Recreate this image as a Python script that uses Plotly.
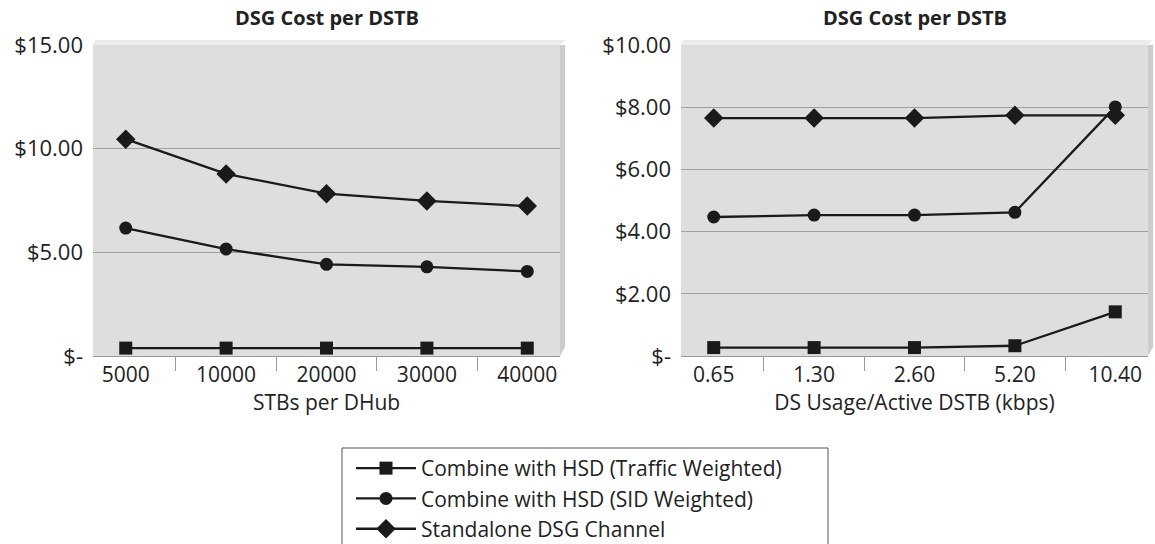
import plotly.graph_objects as go

series_names = ["Combine with HSD (Traffic Weighted)", "Combine with HSD (SID Weighted)", "Standalone DSG Channel"]
symbols = ["square", "circle", "diamond"]

left_categories = ["5000", "10000", "20000", "30000", "40000"]
left_traffic = [0.38, 0.38, 0.38, 0.38, 0.38]
left_sid = [6.17, 5.16, 4.42, 4.3, 4.08]
left_standalone = [10.46, 8.78, 7.83, 7.48, 7.23]

right_categories = ["0.65", "1.30", "2.60", "5.20", "10.40"]
right_traffic = [0.27, 0.27, 0.27, 0.33, 1.42]
right_sid = [4.47, 4.53, 4.53, 4.62, 8.01]
right_standalone = [7.65, 7.65, 7.65, 7.74, 7.74]

left_ticks = [0, 5, 10, 15]
left_ticktext = ["$-", "$5.00", "$10.00", "$15.00"]
right_ticks = [0, 2, 4, 6, 8, 10]
right_ticktext = ["$-", "$2.00", "$4.00", "$6.00", "$8.00", "$10.00"]

FONT = "Open Sans"
W, H = 1155, 544
TXT = "#222222"

fig = go.Figure()
left_data = [left_traffic, left_sid, left_standalone]
right_data = [right_traffic, right_sid, right_standalone]
sizes = [13, 13, 15]
for i, name in enumerate(series_names):
    fig.add_trace(go.Scatter(x=left_categories, y=left_data[i], name=name, mode="lines+markers",
                             line=dict(color="#1a1a1a", width=2.3),
                             marker=dict(symbol=symbols[i], size=sizes[i], color="#1a1a1a"),
                             xaxis="x", yaxis="y", showlegend=True))
for i, name in enumerate(series_names):
    fig.add_trace(go.Scatter(x=right_categories, y=right_data[i], name=name, mode="lines+markers",
                             line=dict(color="#1a1a1a", width=2.3),
                             marker=dict(symbol=symbols[i], size=sizes[i], color="#1a1a1a"),
                             xaxis="x2", yaxis="y2", showlegend=False))

xaxis_common = dict(showgrid=False, showline=True, linecolor="#999999", linewidth=1,
                    ticks="outside", tickson="boundaries", ticklen=14, tickcolor="#999999",
                    tickfont=dict(size=21, color=TXT), type="category", automargin=False,
                    fixedrange=True)
yaxis_common = dict(showgrid=True, gridcolor="#a0a0a0", gridwidth=1, zeroline=False,
                    showline=False, ticks="", ticklabelstandoff=9,
                    tickfont=dict(size=22, color=TXT), automargin=False, fixedrange=True)

ydom = [1 - 356 / H, 1 - 45 / H]
fig.update_layout(
    width=W, height=H,
    margin=dict(l=0, r=0, t=0, b=0, autoexpand=False),
    paper_bgcolor="white", plot_bgcolor="rgba(0,0,0,0)",
    font=dict(family=FONT, color=TXT),
    xaxis=dict(domain=[93 / W, 560 / W], anchor="y",
               title=dict(text="STBs per DHub", font=dict(size=21, color=TXT), standoff=6), **xaxis_common),
    xaxis2=dict(domain=[681 / W, 1148 / W], anchor="y2",
                title=dict(text="DS Usage/Active DSTB (kbps)", font=dict(size=21, color=TXT), standoff=6), **xaxis_common),
    yaxis=dict(domain=ydom, range=[0, 15], tickvals=left_ticks, ticktext=left_ticktext, anchor="x", **yaxis_common),
    yaxis2=dict(domain=ydom, range=[0, 10], tickvals=right_ticks, ticktext=right_ticktext, anchor="x2", **yaxis_common),
    legend=dict(x=351 / W, xanchor="left", y=1 - 448 / H, yanchor="top", borderwidth=0,
                bgcolor="rgba(0,0,0,0)", font=dict(size=21, color=TXT), tracegroupgap=0, itemwidth=60),
    showlegend=True,
)

# plot area backgrounds with slight 3D edges
for xd, yd in [("x domain", "y domain"), ("x2 domain", "y2 domain")]:
    fig.add_shape(type="rect", xref=xd, yref=yd, x0=0, x1=1, y0=0, y1=1,
                  fillcolor="#dedede", line=dict(width=0), layer="below")
    fig.add_shape(type="path", xref=xd, yref=yd,
                  path="M 1,0 L 1.011,0.03 L 1.011,1.0 L 1,1 Z",
                  fillcolor="#cccccc", line=dict(width=0), layer="below")
    fig.add_shape(type="path", xref=xd, yref=yd,
                  path="M 0,1 L 0.005,1.016 L 1.011,1.016 L 1,1 Z",
                  fillcolor="#ebebeb", line=dict(width=0), layer="below")

# legend border (extends past the bottom of the picture like the original)
fig.add_shape(type="rect", xref="paper", yref="paper", x0=342 / W, x1=828 / W, y0=-0.05, y1=1 - 448 / H,
              line=dict(color="#555555", width=1), fillcolor="rgba(0,0,0,0)")

for xd in ["x domain", "x2 domain"]:
    fig.add_annotation(xref=xd, yref="paper", x=0.5, y=1 - 17 / H, text="<b>DSG Cost per DSTB</b>",
                       showarrow=False, font=dict(size=20, color=TXT), yanchor="middle")

fig.write_html("out.html", config={"displayModeBar": False},
               post_script="document.body.style.margin='0';")
